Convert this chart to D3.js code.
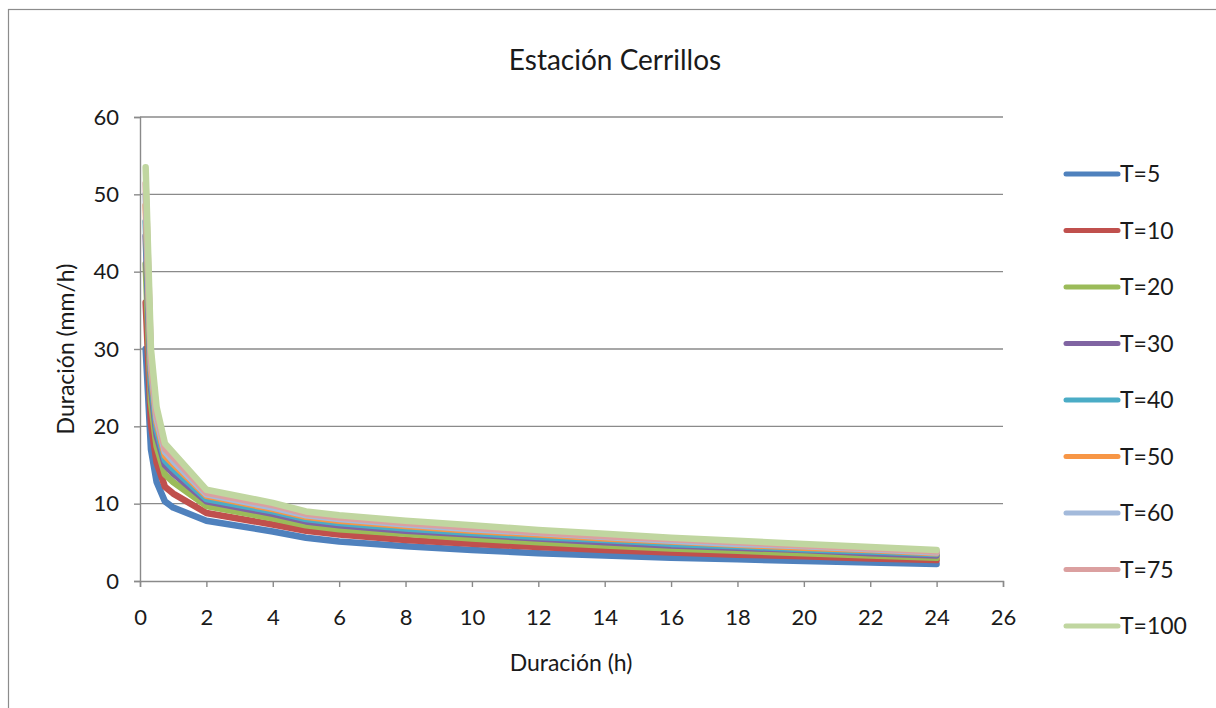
<!DOCTYPE html>
<html>
<head>
<meta charset="utf-8">
<script src="https://cdn.jsdelivr.net/npm/d3@7"></script>
<style>
  html, body { margin: 0; padding: 0; background: #fff; }
  svg { display: block; }
  text { font-family: Lato, "Open Sans", sans-serif; fill: #1a1a1a; }
</style>
</head>
<body>
<svg id="chart" width="1216" height="708"></svg>
<script>
// Duration (h) at which each intensity was evaluated
const durations = [0.17, 0.33, 0.5, 0.75, 1, 2, 4, 5, 6, 8, 10, 12, 14, 16, 18, 20, 22, 24];

// Rainfall intensity (mm/h) for each return period
const T5   = [30.0, 17.0, 12.8, 10.3,  9.5,  7.8, 6.4, 5.6, 5.1, 4.5, 4.0, 3.6, 3.3, 3.0, 2.8, 2.6, 2.4, 2.2];
const T10  = [36.0, 20.3, 15.3, 12.2, 11.3,  8.8, 7.3, 6.5, 6.0, 5.3, 4.8, 4.4, 4.0, 3.7, 3.4, 3.2, 2.9, 2.7];
const T20  = [41.0, 23.1, 17.4, 13.8, 12.8,  9.7, 8.1, 7.2, 6.7, 6.1, 5.5, 5.0, 4.6, 4.2, 3.9, 3.6, 3.3, 3.0];
const T30  = [44.6, 25.1, 18.8, 15.0, 13.9, 10.3, 8.7, 7.7, 7.2, 6.5, 6.0, 5.5, 5.0, 4.6, 4.3, 4.0, 3.6, 3.3];
const T40  = [46.5, 26.1, 19.6, 15.6, 14.5, 10.6, 9.0, 8.0, 7.5, 6.8, 6.2, 5.7, 5.3, 4.8, 4.5, 4.1, 3.8, 3.5];
const T50  = [48.6, 27.3, 20.5, 16.2, 15.1, 11.0, 9.3, 8.3, 7.8, 7.1, 6.5, 6.0, 5.5, 5.1, 4.7, 4.3, 4.0, 3.6];
const T60  = [50.0, 28.1, 21.0, 16.7, 15.5, 11.2, 9.5, 8.5, 8.0, 7.3, 6.7, 6.2, 5.7, 5.2, 4.8, 4.5, 4.1, 3.7];
const T75  = [51.4, 28.8, 21.6, 17.1, 16.0, 11.4, 9.8, 8.7, 8.2, 7.5, 6.9, 6.3, 5.8, 5.4, 5.0, 4.6, 4.2, 3.8];
const T100 = [53.5, 30.0, 22.5, 17.8, 16.6, 11.8, 10.1, 9.0, 8.5, 7.8, 7.2, 6.6, 6.1, 5.6, 5.2, 4.8, 4.4, 4.0];

const seriesNames  = ["T=5", "T=10", "T=20", "T=30", "T=40", "T=50", "T=60", "T=75", "T=100"];
const seriesValues = [T5, T10, T20, T30, T40, T50, T60, T75, T100];
const seriesColors = ["#4F81BD", "#C0504D", "#9BBB59", "#8064A2", "#4BACC6", "#F79646", "#A3BADB", "#DBA0A0", "#C0D6A0"];

const xTicks = d3.range(0, 27, 2);
const yTicks = d3.range(0, 61, 10);

const svg = d3.select("#chart");

// Outer chart frame
svg.append("rect")
  .attr("x", 8.5).attr("y", 9.5)
  .attr("width", 1220).attr("height", 710)
  .attr("fill", "#fff").attr("stroke", "#8c8c8c").attr("stroke-width", 1.2);

const x = d3.scaleLinear().domain([0, 26]).range([140, 1003]);
const y = d3.scaleLinear().domain([0, 60]).range([581, 117]);

// Horizontal gridlines
svg.append("g")
  .selectAll("line")
  .data(yTicks.filter(d => d > 0))
  .join("line")
  .attr("x1", x(0)).attr("x2", x(26))
  .attr("y1", d => y(d)).attr("y2", d => y(d))
  .attr("stroke", "#8a8a8a").attr("stroke-width", 1.4);

// Y axis
const yAxis = svg.append("g")
  .attr("transform", `translate(${x(0)},0)`)
  .call(d3.axisLeft(y).tickValues(yTicks).tickSize(6).tickPadding(15));
yAxis.select(".domain").attr("stroke", "#8a8a8a").attr("stroke-width", 1.4);
yAxis.selectAll(".tick line").attr("stroke", "#8a8a8a").attr("stroke-width", 1.4);
yAxis.selectAll(".tick text")
  .attr("font-size", 22).attr("font-family", "Lato, sans-serif").attr("fill", "#1a1a1a");

// X axis
const xAxis = svg.append("g")
  .attr("transform", `translate(0,${y(0)})`)
  .call(d3.axisBottom(x).tickValues(xTicks).tickSize(6).tickPadding(22));
xAxis.select(".domain").attr("stroke", "#8a8a8a").attr("stroke-width", 1.4);
xAxis.selectAll(".tick line").attr("stroke", "#8a8a8a").attr("stroke-width", 1.4);
xAxis.selectAll(".tick text")
  .attr("font-size", 22).attr("font-family", "Lato, sans-serif").attr("fill", "#1a1a1a");

// Intensity–duration curves
const line = d3.line()
  .x((d, i) => x(durations[i]))
  .y(d => y(d));

svg.append("g")
  .selectAll("path")
  .data(seriesValues)
  .join("path")
  .attr("d", d => line(d))
  .attr("fill", "none")
  .attr("stroke", (d, i) => seriesColors[i])
  .attr("stroke-width", 6.5)
  .attr("stroke-linejoin", "round")
  .attr("stroke-linecap", "round");

// Title
svg.append("text")
  .attr("x", 615).attr("y", 70)
  .attr("text-anchor", "middle")
  .attr("font-size", 28)
  .text("Estación Cerrillos");

// Axis titles
svg.append("text")
  .attr("x", 571).attr("y", 671)
  .attr("text-anchor", "middle")
  .attr("font-size", 23)
  .text("Duración (h)");

svg.append("text")
  .attr("transform", "translate(74,349) rotate(-90)")
  .attr("text-anchor", "middle")
  .attr("font-size", 23)
  .text("Duración (mm/h)");

// Legend
const legend = svg.append("g")
  .selectAll("g")
  .data(seriesNames)
  .join("g")
  .attr("transform", (d, i) => `translate(1066,${174 + i * 56.5})`);

legend.append("line")
  .attr("x1", 0).attr("x2", 52)
  .attr("stroke", (d, i) => seriesColors[i])
  .attr("stroke-width", 5)
  .attr("stroke-linecap", "round");

legend.append("text")
  .attr("x", 54).attr("y", 8)
  .attr("font-size", 23)
  .text(d => d);
</script>
</body>
</html>
